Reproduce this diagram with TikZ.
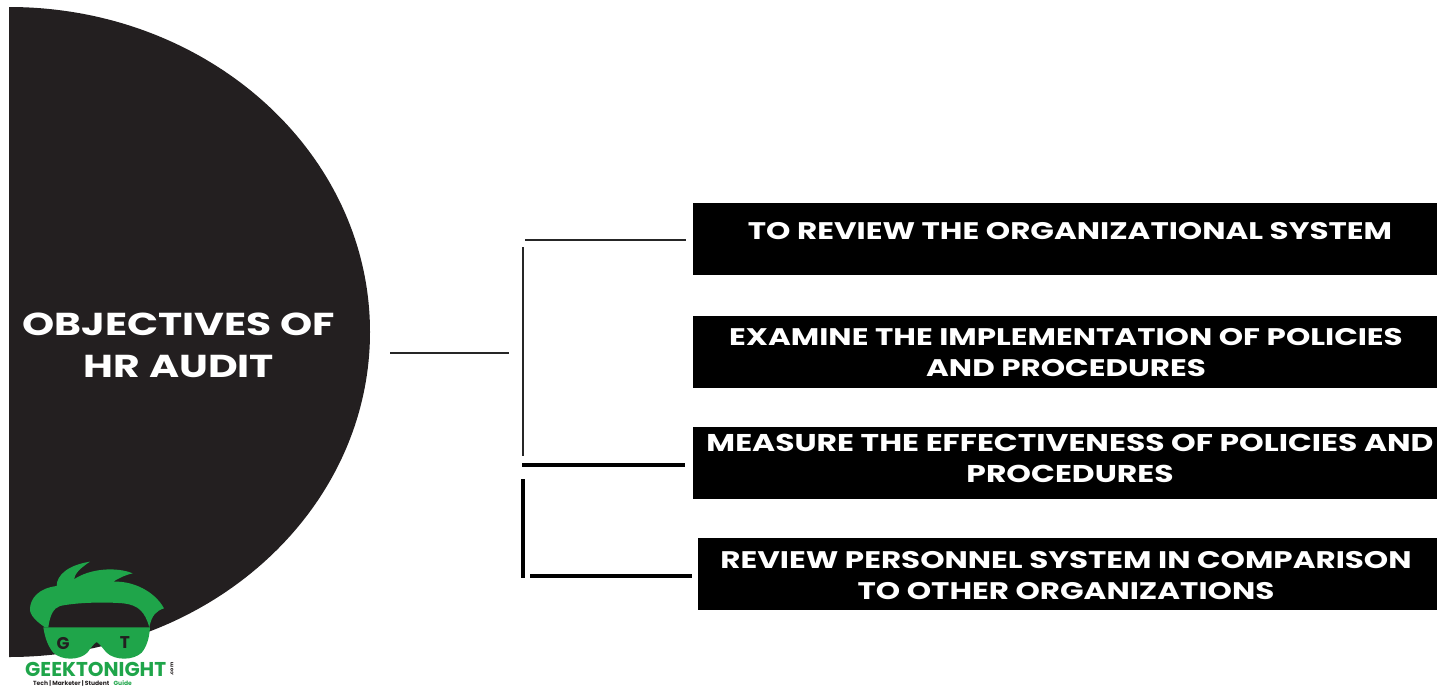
\documentclass[tikz,border=0pt]{standalone}
\usepackage{fontspec}
\setmainfont{Poppins}[BoldFeatures={FakeStretch=1.29}]
\newfontfamily\logofont{Poppins}
\definecolor{disc}{HTML}{231F20}
\definecolor{gtgreen}{HTML}{1FA54A}
\tikzset{
 x=1pt,y=-1pt,
 box/.style={fill=black,draw=none,anchor=north west,inner sep=0pt},
 boxtext/.style={text=white,font=\bfseries\fontsize{24}{31}\selectfont,align=center,inner sep=0pt,text depth=0pt},
 thinline/.style={draw=black!85,line width=2.5pt},
 thickline/.style={draw=black,line width=4pt},
 logotext/.style={font=\logofont\bfseries,inner sep=0pt},
}
\begin{document}
\begin{tikzpicture}
\useasboundingbox (0,0) rectangle (1445,686);
% disc
\begin{scope}
\clip (9,0) rectangle (1445,686);
\fill[disc] (9,332) ellipse [x radius=361, y radius=325];
\end{scope}
\node[text=white,font=\bfseries\fontsize{31.7}{42}\selectfont,align=center,inner sep=0pt] (title) at (179,345) {OBJECTIVES OF\\HR AUDIT};
% boxes
\node[box,minimum width=744pt,minimum height=72pt] (b1) at (693,203) {};
\node[box,minimum width=744pt,minimum height=72pt] (b2) at (693,316) {};
\node[box,minimum width=744pt,minimum height=72pt] (b3) at (693,427) {};
\node[box,minimum width=739pt,minimum height=72pt] (b4) at (698,538) {};
\node[boxtext] (t1) at (1070,231) {TO REVIEW THE ORGANIZATIONAL SYSTEM};
\node[boxtext] (t2) at (1066,352) {EXAMINE THE IMPLEMENTATION OF POLICIES\\AND PROCEDURES};
\node[boxtext,font=\bfseries\fontsize{24.3}{31}\selectfont] (t3) at (1070,458) {MEASURE THE EFFECTIVENESS OF POLICIES AND\\PROCEDURES};
\node[boxtext] (t4) at (1066,575) {REVIEW PERSONNEL SYSTEM IN COMPARISON\\TO OTHER ORGANIZATIONS};
% connector ends
\coordinate (c0a) at (390,353); \coordinate (c0b) at (509,353);
\coordinate (c1a) at (525,240); \coordinate (c1b) at (686,240);
\coordinate (v1a) at (523,247); \coordinate (v1b) at (523,456);
\coordinate (c3a) at (522,465); \coordinate (c3b) at (685,465);
\coordinate (v2a) at (523,479); \coordinate (v2b) at (523,578);
\coordinate (c4a) at (530,576); \coordinate (c4b) at (692,576);
\draw[thinline] (c0a) -- (c0b);
\draw[thinline] (c1a) -- (c1b);
\draw[thinline] (v1a) -- (v1b);
\draw[thickline] (c3a) -- (c3b);
\draw[thickline] (v2a) -- (v2b);
\draw[thickline] (c4a) -- (c4b);
% logo: hair
\begin{scope}[shift={(0,540)},x=0.3333pt,y=-0.3333pt]
\fill[gtgreen] (135,262) .. controls (110,245) and (88,225) .. (90,205)
 .. controls (92,175) and (115,145) .. (170,138)
 .. controls (170,105) and (205,75) .. (270,65)
 .. controls (240,85) and (225,100) .. (222,118)
 .. controls (270,85) and (350,80) .. (398,100)
 .. controls (375,105) and (355,115) .. (340,125)
 .. controls (400,122) and (465,155) .. (492,205)
 .. controls (470,212) and (455,225) .. (448,262)
 .. controls (435,215) and (415,195) .. (370,190)
 .. controls (310,185) and (225,188) .. (180,198)
 .. controls (160,205) and (150,225) .. (145,262) -- cycle;
% logo: glasses
\fill[gtgreen] (130,262) -- (450,262) .. controls (448,295) and (440,320) .. (425,338)
 .. controls (400,362) and (345,362) .. (320,338)
 .. controls (308,325) and (300,312) .. (290,306)
 .. controls (280,312) and (272,325) .. (262,338)
 .. controls (238,362) and (185,362) .. (160,338)
 .. controls (145,320) and (135,295) .. (130,262) -- cycle;
\end{scope}
\node[logotext,font=\logofont\bfseries\fontsize{17}{17}\selectfont,text=disc] (lg) at (63,643) {G};
\node[logotext,font=\logofont\bfseries\fontsize{17}{17}\selectfont,text=disc] (lt) at (125,643) {T};
\node[logotext,font=\logofont\bfseries\fontsize{20}{20}\selectfont,text=gtgreen,anchor=west] (ln) at (25,669) {GEEKTONIGHT};
\node[logotext,font=\logofont\bfseries\fontsize{5}{5}\selectfont,text=disc,rotate=90] (lc) at (172,669) {.com};
\node[logotext,font=\logofont\bfseries\fontsize{6}{6}\selectfont,text=disc,anchor=west] (ls) at (33,683) {Tech | Marketer | Student \hspace{3pt}\textcolor{gtgreen}{Guide}};
\end{tikzpicture}
\end{document}
